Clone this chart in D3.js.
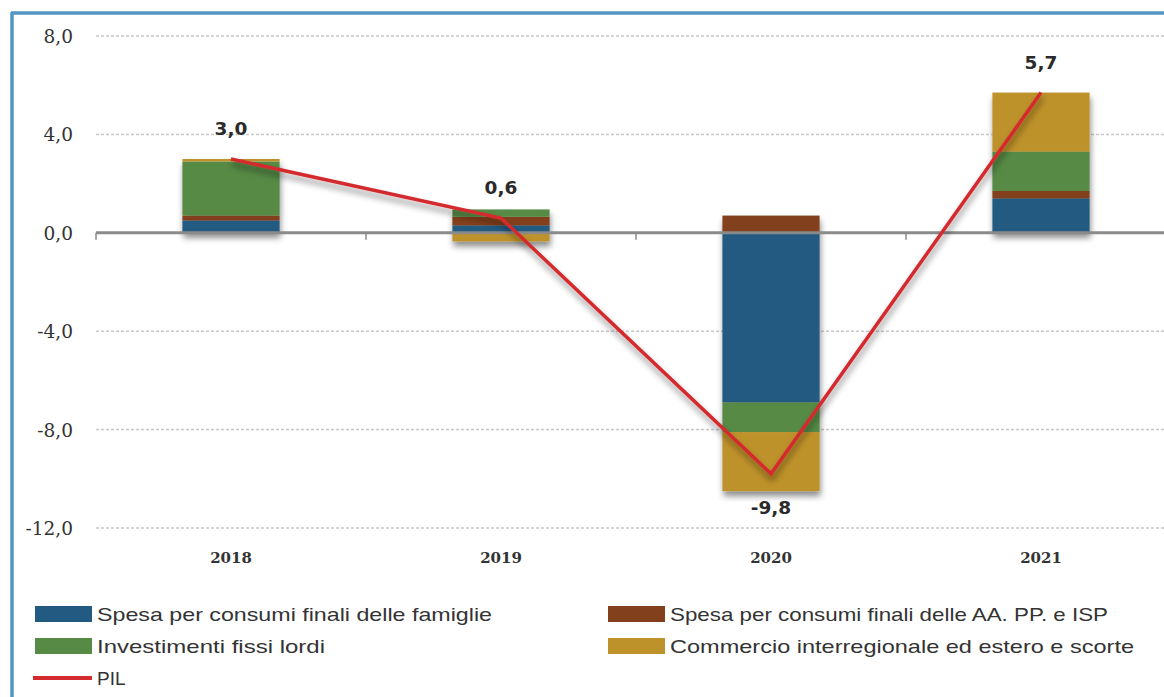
<!DOCTYPE html>
<html><head><meta charset="utf-8">
<script src="https://cdn.jsdelivr.net/npm/d3@7"></script>
<style>body{margin:0;background:#fff}svg{display:block}</style>
</head><body>
<script>
const years = ["2018","2019","2020","2021"];
const famiglie = [0.5, 0.3, -6.9, 1.4];
const aapp = [0.2, 0.35, 0.7, 0.3];
const investimenti = [2.2, 0.3, -1.2, 1.6];
const commercio = [0.1, -0.35, -2.4, 2.4];
const pil = [3.0, 0.6, -9.8, 5.7];
const pilLabels = ["3,0","0,6","-9,8","5,7"];
const yTicks = [8, 4, 0, -4, -8, -12];
const seriesNames = ["Spesa per consumi finali delle famiglie","Spesa per consumi finali delle AA. PP. e ISP","Investimenti fissi lordi","Commercio interregionale ed estero e scorte"];
const pilName = "PIL";

const colors = ["#235a82","#83401c","#578a45","#be922b"];
const W = 1164, H = 697;
const svg = d3.select("body").append("svg").attr("width", W).attr("height", H);
const defs = svg.append("defs");
const f = defs.append("filter").attr("id","sh").attr("x","-20%").attr("y","-20%").attr("width","140%").attr("height","140%");
f.append("feDropShadow").attr("dx",1).attr("dy",5).attr("stdDeviation",3).attr("flood-color","#000").attr("flood-opacity",0.45);

// frame
svg.append("line").attr("x1",11).attr("x2",W).attr("y1",13).attr("y2",13).attr("stroke","#5595c4").attr("stroke-width",3.5);
svg.append("line").attr("x1",12).attr("x2",12).attr("y1",12).attr("y2",H).attr("stroke","#5595c4").attr("stroke-width",3.5);

const x = d3.scaleBand().domain(years).range([96, 1176]).paddingInner(0.64).paddingOuter(0.32);
const y = d3.scaleLinear().domain([-12, 8]).range([528, 36]);

// gridlines
svg.append("g").selectAll("line").data(yTicks.filter(t => t !== 0)).join("line")
  .attr("x1", 96).attr("x2", W).attr("y1", d => y(d)).attr("y2", d => y(d))
  .attr("stroke","#c8c8c8").attr("stroke-width",1.5).attr("stroke-dasharray","3,2");

// y axis labels
const yAxis = d3.axisLeft(y).tickValues(yTicks).tickSize(0).tickPadding(0)
  .tickFormat(d => d3.format(".1f")(d).replace(".", ",").replace("\u2212", "-"));
const ga = svg.append("g").attr("transform","translate(73,0)").call(yAxis);
ga.select(".domain").remove();
ga.selectAll("text").attr("font-family","'DejaVu Serif'").attr("font-size",18.5).attr("fill","#333").attr("dy","0.35em");

// stacked bars
const rows = years.map((yr, i) => ({year: yr, s0: famiglie[i], s1: aapp[i], s2: investimenti[i], s3: commercio[i]}));
const stack = d3.stack().keys(["s0","s1","s2","s3"]).offset(d3.stackOffsetDiverging);
const stacked = stack(rows);
const bars = svg.append("g").attr("filter","url(#sh)");
stacked.forEach((layer, k) => {
  bars.append("g").attr("fill", colors[k]).selectAll("rect").data(layer).join("rect")
    .attr("x", d => x(d.data.year)).attr("width", x.bandwidth())
    .attr("y", d => y(Math.max(d[0], d[1]))).attr("height", d => Math.abs(y(d[0]) - y(d[1])));
});

// zero axis
svg.append("line").attr("x1",96).attr("x2",W).attr("y1",y(0)).attr("y2",y(0)).attr("stroke","#8a8a8a").attr("stroke-width",3);
const bounds = years.map(d => x(d) - x.step()*x.paddingInner()/2);
svg.append("g").selectAll("line").data(bounds).join("line")
  .attr("x1", d => d).attr("x2", d => d).attr("y1", y(0)).attr("y2", y(0)+7)
  .attr("stroke","#8a8a8a").attr("stroke-width",1.5);

// x labels
svg.append("g").selectAll("text").data(years).join("text")
  .attr("x", d => x(d) + x.bandwidth()/2).attr("y", 563).attr("text-anchor","middle")
  .attr("font-family","'DejaVu Serif'").attr("font-weight","bold").attr("font-size",15).attr("fill","#333").text(d => d);

// PIL line
const line = d3.line().x((d, i) => x(years[i]) + x.bandwidth()/2).y(d => y(d));
svg.append("path").datum(pil).attr("d", line).attr("fill","none").attr("stroke","#d42b2f").attr("stroke-width",3.5)
  .attr("stroke-linejoin","miter").attr("filter","url(#sh)");

// PIL labels
svg.append("g").selectAll("text").data(pil).join("text")
  .attr("x", (d, i) => x(years[i]) + x.bandwidth()/2)
  .attr("y", d => d < 0 ? y(d) + 40 : y(d) - 24)
  .attr("text-anchor","middle").attr("font-family","'DejaVu Sans'").attr("font-weight","bold").attr("font-size",18.5).attr("fill","#2a2a2a")
  .text((d, i) => pilLabels[i]);

// legend
const legPos = [[35,614],[608,614],[35,646],[608,646]];
const legW = [395, 438, 228, 464];
const lg = svg.append("g");
seriesNames.forEach((n, i) => {
  const [lx, ly] = legPos[i];
  lg.append("rect").attr("x", lx).attr("y", ly - 8).attr("width", 57).attr("height", 16).attr("fill", colors[i]);
  lg.append("text").attr("x", lx + 62).attr("y", ly).attr("dy","0.35em").attr("font-family","'Liberation Sans'").attr("font-size",19)
    .attr("fill","#333").attr("textLength", legW[i]).attr("lengthAdjust","spacingAndGlyphs").text(n);
});
lg.append("line").attr("x1",33).attr("x2",92).attr("y1",678).attr("y2",678).attr("stroke","#d42b2f").attr("stroke-width",4);
lg.append("text").attr("x",97).attr("y",678).attr("dy","0.35em").attr("font-family","'Liberation Sans'").attr("font-size",19).attr("fill","#333").text(pilName);
</script>
</body></html>
